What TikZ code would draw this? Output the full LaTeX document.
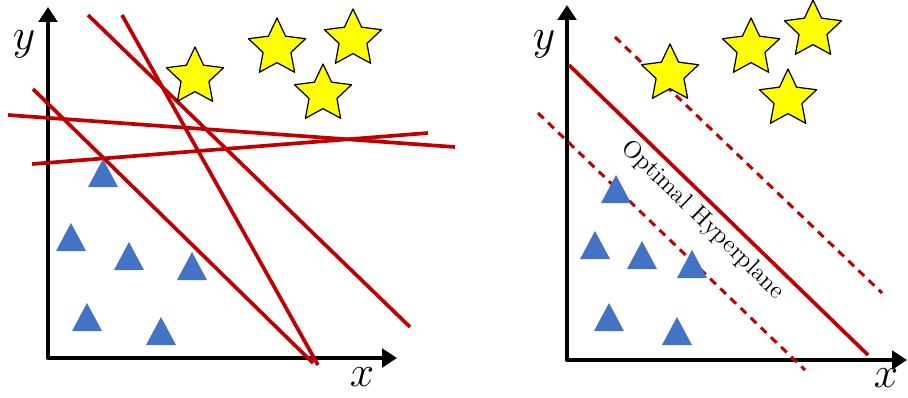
\documentclass[tikz,border=0pt]{standalone}
\usepackage{amsmath,amssymb}
\usepackage{tikz}
\usetikzlibrary{arrows.meta,shapes.geometric}
\definecolor{sepred}{HTML}{C00000}
\definecolor{triblue}{HTML}{4472C4}
\definecolor{staryel}{HTML}{FFFF00}
\tikzset{
  every picture/.style={line join=round, >=Stealth},
  axis/.style={line width=2.4pt, {Triangle[length=8.5pt,width=10.5pt]}-{Triangle[length=8.5pt,width=10.5pt]}},
  sepline/.style={sepred, line width=2.1pt},
  margin/.style={sepred, line width=1.7pt, dash pattern=on 4.5pt off 3.5pt},
  tri/.style={fill=triblue},
  starnode/.style={star, star points=5, star point ratio=2.05, draw=black, line width=0.7pt,
    fill=staryel, minimum size=1.2cm, inner sep=0pt},
  axlabel/.style={font=\fontsize{27}{27}\selectfont},
}

\begin{document}
\begin{tikzpicture}[x=0.02cm,y=-0.02cm]
\useasboundingbox (0,0) rectangle (908,397);
% left: many separating lines
\draw[axis] (48,7) -- (48,358) -- (397,358);
\node[axlabel] (ly) at (24,44) {$y$};
\node[axlabel] (lx) at (362,377) {$x$};
\draw[sepline] (88,15) -- (410,327);
\draw[sepline] (122,15) -- (318,365);
\draw[sepline] (33,89) -- (313,363);
\draw[sepline] (8,115) -- (455,147);
\draw[sepline] (32,164) -- (428,133);
\foreach \x/\y in {103/159, 71/223, 129/242, 192/252, 87/303, 161/317}{
  \fill[tri] (\x,\y) -- ++(-15,28) -- ++(30,0) -- cycle;
}
\foreach \x/\y [count=\i] in {195/77, 277/48, 353/39, 323/94}{
  \node[starnode] (lstar\i) at (\x,\y) {};
}
% right: optimal hyperplane with margins
\draw[axis] (567,5) -- (567,360) -- (907,360);
\node[axlabel] (ry) at (544,44) {$y$};
\node[axlabel] (rx) at (886,378) {$x$};
\draw[margin] (615,37) -- (882,293);
\draw[margin] (538,113) -- (805,370);
\coordinate (hp1) at (569,65);
\coordinate (hp2) at (868,355);
\draw[sepline] (hp1) -- (hp2)
  node[pos=0.49, sloped, below=3pt, inner sep=0pt, text=black, font=\fontsize{14}{15}\selectfont] (hplabel) {Optimal Hyperplane};
\foreach \x/\y in {616/175, 595/231, 642/241, 692/250, 609/303, 677/317}{
  \fill[tri] (\x,\y) -- ++(-15,28) -- ++(30,0) -- cycle;
}
\foreach \x/\y [count=\i] in {670/74, 751/48, 813/30, 788/99}{
  \node[starnode] (rstar\i) at (\x,\y) {};
}
\end{tikzpicture}
\end{document}
